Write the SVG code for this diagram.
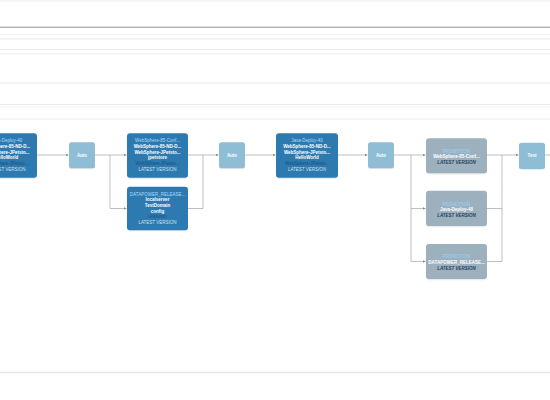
<svg xmlns="http://www.w3.org/2000/svg" width="550" height="400" viewBox="0 0 550 400">
<style>
  .hl { stroke: #e6e6e6; stroke-width: 0.8; }
  .conn { fill: none; stroke: #a3a3a3; stroke-width: 0.7; }
  .dep { fill: #2d7ab0; }
  .auto { fill: #8fbdd5; }
  .promo { fill: #9db0bd; }
  .shadow { fill: #000; opacity: 0.08; }
  text { font-family: "Liberation Sans", Arial, sans-serif; font-size: 4.5px; text-anchor: middle; font-weight: bold; }
  .t { fill: #a9dcff; font-weight: normal; }
  .w { fill: #ffffff; }
  .d { fill: #1b4f7a; font-weight: normal; }
  .lv { fill: #cfe0ec; font-weight: normal; }
  .pt { fill: #8fd6fb; font-weight: normal; }
  .plv { fill: #1f3f5e; font-style: italic; }
  .a { fill: #ffffff; }
</style>
<defs>
  <marker id="arr" viewBox="0 0 6 6" refX="6" refY="3" markerWidth="4" markerHeight="4" orient="auto">
    <path d="M0,0 L6,3 L0,6 z" fill="#8a8a8a"/>
  </marker>
</defs>
<rect x="0" y="0" width="550" height="400" fill="#ffffff"/>
<g id="background-lines">
  <line x1="0" y1="1" x2="550" y2="1" class="hl"/>
  <line x1="0" y1="27.2" x2="550" y2="27.2" stroke="#858585" stroke-width="0.9"/>
  <line x1="0" y1="34.5" x2="550" y2="34.5" stroke="#f2f2f2" stroke-width="1"/>
  <line x1="0" y1="39" x2="550" y2="39" class="hl"/>
  <line x1="0" y1="49.5" x2="550" y2="49.5" class="hl"/>
  <line x1="0" y1="54" x2="550" y2="54" class="hl"/>
  <line x1="0" y1="83" x2="550" y2="83" class="hl"/>
  <line x1="0" y1="104.5" x2="550" y2="104.5" class="hl"/>
  <line x1="0" y1="106.8" x2="550" y2="106.8" stroke="#f0f0f0" stroke-width="0.8"/>
  <line x1="0" y1="119" x2="550" y2="119" class="hl"/>
  <line x1="0" y1="372.5" x2="550" y2="372.5" stroke="#e4e4e4" stroke-width="1.5"/>
</g>
<g id="connectors">
  <path class="conn" d="M37,155 H68.5" marker-end="url(#arr)"/>
  <path class="conn" d="M95,155 H126.5" marker-end="url(#arr)"/>
  <path class="conn" d="M110,155 V208.5 H126.5" marker-end="url(#arr)"/>
  <path class="conn" d="M188,155 H218.5" marker-end="url(#arr)"/>
  <path class="conn" d="M188,208.5 H203 V155"/>
  <path class="conn" d="M245,155 H275.5" marker-end="url(#arr)"/>
  <path class="conn" d="M338,155 H367.5" marker-end="url(#arr)"/>
  <path class="conn" d="M394,155 H425.5" marker-end="url(#arr)"/>
  <path class="conn" d="M411,155 V261.5 H425.5" marker-end="url(#arr)"/>
  <path class="conn" d="M411,208.5 H425.5" marker-end="url(#arr)"/>
  <path class="conn" d="M487,155 H502 M487,208.5 H502 M487,261.5 H502 M502,155 V261.5"/>
  <path class="conn" d="M502,155 H518.5" marker-end="url(#arr)"/>
  <path class="conn" d="M545,155 H550"/>
</g>
<g id="node-java-deploy-left">
  <rect class="shadow" x="-24" y="134.5" width="61" height="44.5" rx="3"/>
  <rect class="dep" x="-24" y="133.3" width="61" height="44.5" rx="3"/>
  <text x="6.5" y="142.3" class="t">Java-Deploy-40</text>
  <text x="6.5" y="148" class="w">WebSphere-85-ND-D...</text>
  <text x="6.5" y="153.7" class="w">WebSphere-JPetsto...</text>
  <text x="6.5" y="159.4" class="w">HelloWorld</text>
  <text x="6.5" y="165.1" class="d">WebSphere-JPetsto...</text>
  <text x="6.5" y="170.8" class="lv">LATEST VERSION</text>
</g>
<g id="node-auto-1">
  <rect class="shadow" x="69" y="143.3" width="26" height="26" rx="2.5"/>
  <rect class="auto" x="69" y="142.3" width="26" height="26" rx="2.5"/>
  <text x="82" y="156.8" class="a">Auto</text>
</g>
<g id="node-websphere-conf">
  <rect class="shadow" x="127" y="134.5" width="61" height="44.5" rx="3"/>
  <rect class="dep" x="127" y="133.3" width="61" height="44.5" rx="3"/>
  <text x="157.5" y="142.3" class="t">WebSphere-85-Conf...</text>
  <text x="157.5" y="148" class="w">WebSphere-85-ND-D...</text>
  <text x="157.5" y="153.7" class="w">WebSphere-JPetsto...</text>
  <text x="157.5" y="159.4" class="w">jpetstore</text>
  <text x="157.5" y="165.1" class="d">WebSphere-JPetsto...</text>
  <text x="157.5" y="170.8" class="lv">LATEST VERSION</text>
</g>
<g id="node-datapower">
  <rect class="shadow" x="127" y="187.8" width="61" height="43.5" rx="3"/>
  <rect class="dep" x="127" y="186.7" width="61" height="43.5" rx="3"/>
  <text x="157.5" y="195.6" class="t">DATAPOWER_RELEASE...</text>
  <text x="157.5" y="201.3" class="w">localserver</text>
  <text x="157.5" y="207" class="w">TestDomain</text>
  <text x="157.5" y="212.7" class="w">config</text>
  <text x="157.5" y="218.4" class="d">Unknown</text>
  <text x="157.5" y="224.4" class="lv">LATEST VERSION</text>
</g>
<g id="node-auto-2">
  <rect class="shadow" x="219" y="143.3" width="26" height="26" rx="2.5"/>
  <rect class="auto" x="219" y="142.3" width="26" height="26" rx="2.5"/>
  <text x="232" y="156.8" class="a">Auto</text>
</g>
<g id="node-java-deploy">
  <rect class="shadow" x="276" y="134.5" width="62" height="44.5" rx="3"/>
  <rect class="dep" x="276" y="133.3" width="62" height="44.5" rx="3"/>
  <text x="307" y="142.3" class="t">Java-Deploy-40</text>
  <text x="307" y="148" class="w">WebSphere-85-ND-D...</text>
  <text x="307" y="153.7" class="w">WebSphere-JPetsto...</text>
  <text x="307" y="159.4" class="w">HelloWorld</text>
  <text x="307" y="165.1" class="d">WebSphere-JPetsto...</text>
  <text x="307" y="170.8" class="lv" font-style="italic">LATEST VERSION</text>
</g>
<g id="node-auto-3">
  <rect class="shadow" x="368" y="143.3" width="26" height="26" rx="2.5"/>
  <rect class="auto" x="368" y="142.3" width="26" height="26" rx="2.5"/>
  <text x="381" y="156.8" class="a">Auto</text>
</g>
<g id="node-promo-1">
  <rect class="shadow" x="426" y="139.5" width="61" height="35" rx="3"/>
  <rect class="promo" x="426" y="138.3" width="61" height="35" rx="3"/>
  <text x="456.5" y="152.6" class="pt">PROMOTION</text>
  <text x="456.5" y="158.3" class="w">WebSphere-85-Conf...</text>
  <text x="456.5" y="164.2" class="plv">LATEST VERSION</text>
</g>
<g id="node-promo-2">
  <rect class="shadow" x="426" y="192" width="61" height="35.3" rx="3"/>
  <rect class="promo" x="426" y="190.7" width="61" height="35.3" rx="3"/>
  <text x="456.5" y="205.6" class="pt">PROMOTION</text>
  <text x="456.5" y="211.3" class="w">Java-Deploy-40</text>
  <text x="456.5" y="217" class="plv">LATEST VERSION</text>
</g>
<g id="node-promo-3">
  <rect class="shadow" x="426" y="245.3" width="61" height="35" rx="3"/>
  <rect class="promo" x="426" y="244" width="61" height="35" rx="3"/>
  <text x="456.5" y="258.3" class="pt">PROMOTION</text>
  <text x="456.5" y="264" class="w">DATAPOWER_RELEASE...</text>
  <text x="456.5" y="269.9" class="plv">LATEST VERSION</text>
</g>
<g id="node-test">
  <rect class="shadow" x="519" y="143.7" width="26" height="26.3" rx="2.5"/>
  <rect class="auto" x="519" y="142.7" width="26" height="26.3" rx="2.5"/>
  <text x="532" y="157.3" class="a">Test</text>
</g>
</svg>
